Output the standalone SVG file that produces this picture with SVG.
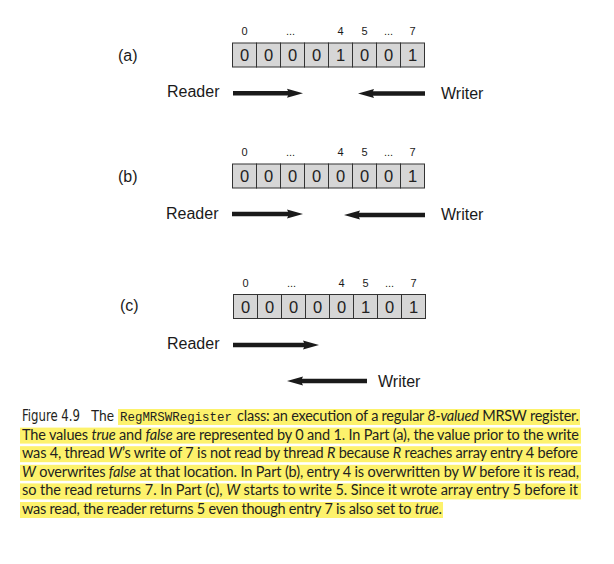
<svg xmlns="http://www.w3.org/2000/svg" width="614" height="564" viewBox="0 0 614 564">
<style>
.lbl{font-family:"Liberation Sans",Arial,sans-serif;font-size:16px;fill:#1a1a1a}
.idx{font-family:"Liberation Sans",Arial,sans-serif;font-size:11px;fill:#1a1a1a;text-anchor:middle}
.cell{fill:#d6d6d6;stroke:#333;stroke-width:1}
.val{font-family:"Liberation Sans",Arial,sans-serif;font-size:16.5px;fill:#222;text-anchor:middle}
.arr{stroke:#1a1a1a;stroke-width:4.5;fill:none;marker-end:url(#ah)}
.hl{fill:#fdf26c}
.cap{font-family:Lato,"Open Sans",sans-serif;font-size:14.5px;fill:#231f20}
.fig{font-family:"Liberation Sans Narrow","DejaVu Sans Condensed",sans-serif;font-stretch:condensed;font-size:16px;fill:#231f20}
.mono{font-family:"Liberation Mono","Courier New",monospace;font-size:12.5px;fill:#231f20}
.it{font-style:italic}
</style>
<defs>
<marker id="ah" viewBox="0 0 16 10" refX="2" refY="5" markerWidth="16" markerHeight="10" markerUnits="userSpaceOnUse" orient="auto">
<path d="M0,0.5 L16,5 L0,9.5 L2,5 z" fill="#1a1a1a"/>
</marker>
<g id="cells">
<rect class="cell" x="0" y="0" width="24" height="24"/>
<rect class="cell" x="24" y="0" width="24" height="24"/>
<rect class="cell" x="48" y="0" width="24" height="24"/>
<rect class="cell" x="72" y="0" width="24" height="24"/>
<rect class="cell" x="96" y="0" width="24" height="24"/>
<rect class="cell" x="120" y="0" width="24" height="24"/>
<rect class="cell" x="144" y="0" width="24" height="24"/>
<rect class="cell" x="168" y="0" width="24" height="24"/>
</g>
<g id="idxs">
<text class="idx" x="12" y="0">0</text>
<text class="idx" x="58" y="0">...</text>
<text class="idx" x="108" y="0">4</text>
<text class="idx" x="132" y="0">5</text>
<text class="idx" x="156" y="0">...</text>
<text class="idx" x="180" y="0">7</text>
</g>
</defs>

<g id="partA">
<text class="lbl" x="118" y="61">(a)</text>
<use href="#idxs" x="232.5" y="35"/>
<use href="#cells" x="232.5" y="43"/>
<g transform="translate(232.5,61)">
<text class="val" x="12">0</text><text class="val" x="36">0</text><text class="val" x="60">0</text><text class="val" x="84">0</text><text class="val" x="108">1</text><text class="val" x="132">0</text><text class="val" x="156">0</text><text class="val" x="180">1</text>
</g>
<text class="lbl" x="167" y="97">Reader</text>
<text class="lbl" x="441" y="98.5">Writer</text>
</g>

<g id="partB">
<text class="lbl" x="118" y="182">(b)</text>
<use href="#idxs" x="232.5" y="156"/>
<use href="#cells" x="232.5" y="164"/>
<g transform="translate(232.5,182)">
<text class="val" x="12">0</text><text class="val" x="36">0</text><text class="val" x="60">0</text><text class="val" x="84">0</text><text class="val" x="108">0</text><text class="val" x="132">0</text><text class="val" x="156">0</text><text class="val" x="180">1</text>
</g>
<text class="lbl" x="166" y="218.5">Reader</text>
<text class="lbl" x="441" y="220">Writer</text>
</g>

<g id="partC">
<text class="lbl" x="120" y="311">(c)</text>
<use href="#idxs" x="233.5" y="287"/>
<use href="#cells" x="233.5" y="294.5"/>
<g transform="translate(233.5,312.5)">
<text class="val" x="12">0</text><text class="val" x="36">0</text><text class="val" x="60">0</text><text class="val" x="84">0</text><text class="val" x="108">0</text><text class="val" x="132">1</text><text class="val" x="156">0</text><text class="val" x="180">1</text>
</g>
<text class="lbl" x="167" y="348.5">Reader</text>
<text class="lbl" x="378" y="386.5">Writer</text>
</g>

<g id="connectors">
<path class="arr" d="M233,93.3 L289,93.3"/>
<path class="arr" d="M425,93.5 L372,93.5"/>
<path class="arr" d="M232,214 L289,214"/>
<path class="arr" d="M425,215 L358,215"/>
<path class="arr" d="M233,345 L305,345"/>
<path class="arr" d="M367,381 L301,381"/>
</g>

<g id="caption">
<rect class="hl" x="118" y="409" width="462" height="16"/>
<rect class="hl" x="20" y="427.6" width="561" height="16"/>
<rect class="hl" x="20" y="446.2" width="561" height="16"/>
<rect class="hl" x="20" y="464.8" width="561" height="16"/>
<rect class="hl" x="20" y="483.4" width="561" height="16"/>
<rect class="hl" x="20" y="502" width="423" height="16"/>
<text class="fig" x="22" y="421" textLength="58" lengthAdjust="spacingAndGlyphs">Figure 4.9</text>
<text class="cap" x="91" y="421" textLength="23" lengthAdjust="spacingAndGlyphs">The</text>
<text class="mono" x="120" y="421" textLength="112" lengthAdjust="spacingAndGlyphs">RegMRSWRegister</text>
<text class="cap" x="237" y="421" textLength="342">class: an execution of a regular <tspan class="it">8-valued</tspan> MRSW register.</text>
<text class="cap" x="22" y="439.6" textLength="557">The values <tspan class="it">true</tspan> and <tspan class="it">false</tspan> are represented by 0 and 1. In Part (a), the value prior to the write</text>
<text class="cap" x="22" y="458.2" textLength="556">was 4, thread <tspan class="it">W</tspan>’s write of 7 is not read by thread <tspan class="it">R</tspan> because <tspan class="it">R</tspan> reaches array entry 4 before</text>
<text class="cap" x="22" y="476.8" textLength="557"><tspan class="it">W</tspan> overwrites <tspan class="it">false</tspan> at that location. In Part (b), entry 4 is overwritten by <tspan class="it">W</tspan> before it is read,</text>
<text class="cap" x="22" y="495.4" textLength="556">so the read returns 7. In Part (c), <tspan class="it">W</tspan> starts to write 5. Since it wrote array entry 5 before it</text>
<text class="cap" x="22" y="514" textLength="420">was read, the reader returns 5 even though entry 7 is also set to <tspan class="it">true</tspan>.</text>
</g>
</svg>
